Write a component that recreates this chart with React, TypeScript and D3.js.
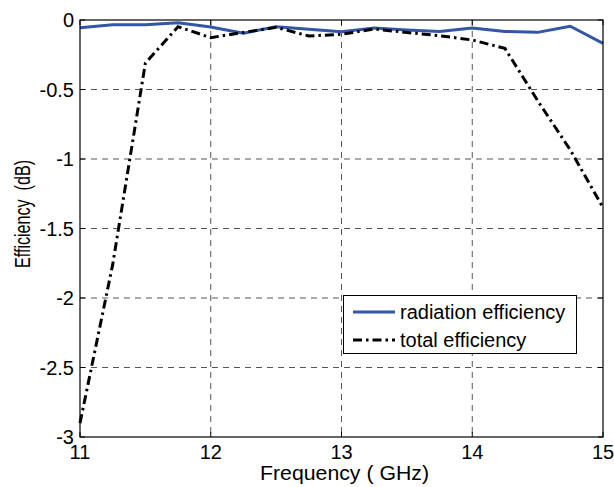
import React from 'react';
import * as d3 from 'd3';

const freqs = [11, 11.25, 11.5, 11.75, 12, 12.25, 12.5, 12.75, 13, 13.25, 13.5, 13.75, 14, 14.25, 14.5, 14.75, 15];
const radiationEff = [-0.055, -0.035, -0.035, -0.02, -0.05, -0.095, -0.048, -0.067, -0.084, -0.058, -0.072, -0.082, -0.058, -0.082, -0.089, -0.045, -0.168];
const totalEff = [-2.9, -1.76, -0.31, -0.048, -0.127, -0.089, -0.053, -0.115, -0.103, -0.065, -0.09, -0.113, -0.144, -0.204, -0.58, -0.935, -1.35];
const xTicks = [11, 12, 13, 14, 15];
const yTicks = [0, -0.5, -1, -1.5, -2, -2.5, -3];
const legendLabels = ['radiation efficiency', 'total efficiency'];

const W = 614;
const H = 487;
const m = { left: 80, right: 603, top: 20, bottom: 437 };
const font = '"Liberation Sans", Arial, sans-serif';
const blue = '#3456a6';

export default function App() {
  const x = d3.scaleLinear().domain([11, 15]).range([m.left, m.right]);
  const y = d3.scaleLinear().domain([-3, 0]).range([m.bottom, m.top]);

  const line = d3.line<number>()
    .x((_, i) => x(freqs[i]))
    .y(d => y(d));

  const tick = 5;

  return (
    <svg width={W} height={H} style={{ position: 'absolute', left: 0, top: 0 }} fontFamily={font}>
      <rect x={0} y={0} width={W} height={H} fill="#fff" />
      {/* grid */}
      {xTicks.slice(1, -1).map(t => (
        <line key={'gx' + t} x1={x(t)} x2={x(t)} y1={m.top} y2={m.bottom}
          stroke="#555" strokeWidth={1} strokeDasharray="6,5" />
      ))}
      {yTicks.slice(1, -1).map(t => (
        <line key={'gy' + t} x1={m.left} x2={m.right} y1={y(t)} y2={y(t)}
          stroke="#555" strokeWidth={1} strokeDasharray="6,5" />
      ))}
      {/* ticks inside, all four sides */}
      {xTicks.map(t => (
        <g key={'tx' + t}>
          <line x1={x(t)} x2={x(t)} y1={m.bottom} y2={m.bottom - tick} stroke="#000" />
          <line x1={x(t)} x2={x(t)} y1={m.top} y2={m.top + tick} stroke="#000" />
          <text x={x(t)} y={459} textAnchor="middle" fontSize={20}>{t}</text>
        </g>
      ))}
      {yTicks.map(t => (
        <g key={'ty' + t}>
          <line x1={m.left} x2={m.left + tick} y1={y(t)} y2={y(t)} stroke="#000" />
          <line x1={m.right} x2={m.right - tick} y1={y(t)} y2={y(t)} stroke="#000" />
          <text x={74} y={y(t)} dy="0.35em" textAnchor="end" fontSize={20}>{t}</text>
        </g>
      ))}
      {/* series */}
      <path d={line(radiationEff) ?? ''} fill="none" stroke={blue} strokeWidth={3} strokeLinejoin="round" />
      <path d={line(totalEff) ?? ''} fill="none" stroke="#000" strokeWidth={3}
        strokeDasharray="9,4,2.5,4" />
      {/* frame */}
      <rect x={m.left} y={m.top} width={m.right - m.left} height={m.bottom - m.top}
        fill="none" stroke="#000" strokeWidth={1.2} />
      {/* legend */}
      <rect x={343.5} y={295.5} width={233} height={58} fill="#fff" stroke="#000" strokeWidth={1} />
      <line x1={353} x2={395} y1={312} y2={312} stroke={blue} strokeWidth={3} />
      <line x1={353} x2={395} y1={340} y2={340} stroke="#000" strokeWidth={3} strokeDasharray="9,4,2.5,4" />
      <text x={400} y={319} fontSize={20}>{legendLabels[0]}</text>
      <text x={400} y={347} fontSize={20}>{legendLabels[1]}</text>
      {/* axis labels */}
      <text x={344.5} y={480} textAnchor="middle" fontSize={21} textLength={169} lengthAdjust="spacingAndGlyphs">Frequency ( GHz)</text>
      <text transform="translate(30,214) rotate(-90)" textAnchor="middle" fontSize={22}
        textLength={108} lengthAdjust="spacingAndGlyphs">{'Efficiency\u00a0\u00a0(dB)'}</text>
    </svg>
  );
}
